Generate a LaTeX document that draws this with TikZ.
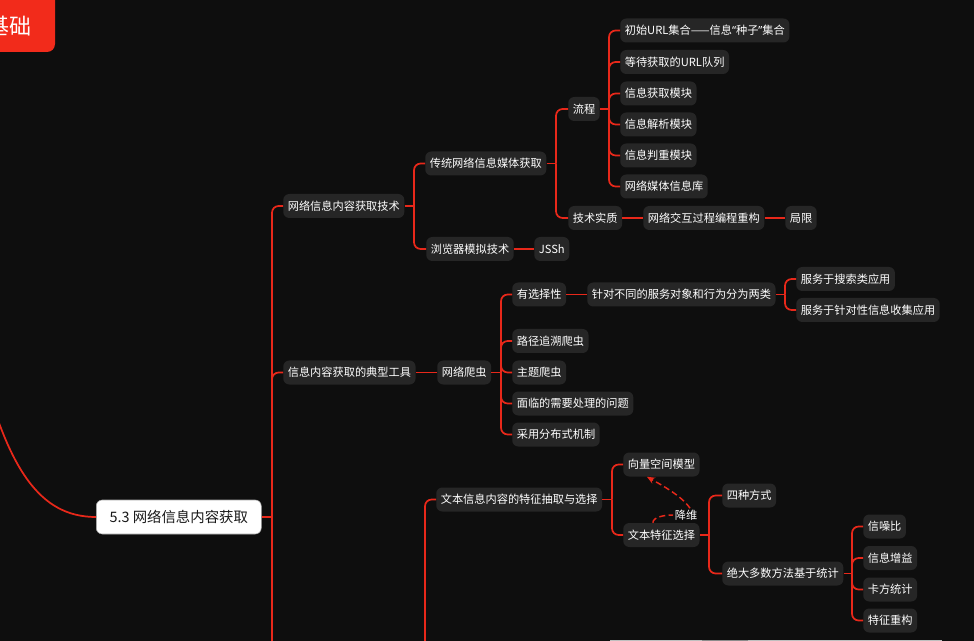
\documentclass[tikz,border=0pt]{standalone}
\usepackage{fontspec}
\setmainfont{Noto Sans CJK SC}
\newfontfamily\latinq{Noto Sans}
\usetikzlibrary{arrows.meta,calc}
\definecolor{bgc}{HTML}{0E0E0E}
\definecolor{nodebg}{HTML}{262626}
\definecolor{edgered}{HTML}{E8281A}
\definecolor{rootred}{HTML}{F22B1B}
\tikzset{
  topic/.style={anchor=west, fill=nodebg, text=white, rounded corners=4.5pt,
    font=\fontsize{8.4}{10}\selectfont, inner xsep=3.4pt, inner ysep=0pt, minimum height=18pt},
  mainnode/.style={anchor=west, fill=white, draw=black!35, line width=0.4pt, text=black!90,
    rounded corners=4.5pt, font=\fontsize{10.8}{12}\selectfont, minimum width=123.75pt,
    minimum height=25.5pt, inner sep=0pt},
  conn/.style={draw=edgered, line width=1.3pt, rounded corners=5pt},
  rel/.style={draw=edgered, line width=1.1pt, dash pattern=on 4.5pt off 2.5pt},
  rellabel/.style={fill=bgc, text=white, font=\fontsize{8.4}{10}\selectfont, inner sep=1pt},
}
\begin{document}
\begin{tikzpicture}[x=0.75pt,y=-0.75pt]
\clip (0,0) rectangle (974,641);
\fill[bgc] (0,0) rectangle (974,641);
% root (cut off)
\fill[rootred, rounded corners=6pt] (-120,-30) rectangle (55,52);
\node[anchor=east, text=white, font=\fontsize{16.5}{18}\selectfont, inner sep=0pt] (root) at (32,26) {基础};
\coordinate (rootout) at (-20,360);
% nodes
\node[mainnode] (m) at (96,517) {5.3 网络信息内容获取};
\node[topic] (a) at (283,206) {网络信息内容获取技术};
\node[topic] (a1) at (425,163.5) {传统网络信息媒体获取};
\node[topic] (lc) at (568,109) {流程};
\node[topic] (l1) at (620,30.5) {初始URL集合——信息{\latinq “}种子{\latinq ”}集合};
\node[topic] (l2) at (620,62) {等待获取的URL队列};
\node[topic] (l3) at (620,93.5) {信息获取模块};
\node[topic] (l4) at (620,124.5) {信息解析模块};
\node[topic] (l5) at (620,155.5) {信息判重模块};
\node[topic] (l6) at (620,186.5) {网络媒体信息库};
\node[topic] (js) at (568,218) {技术实质};
\node[topic] (jr) at (643,218) {网络交互过程编程重构};
\node[topic] (jx) at (785,218) {局限};
\node[topic] (a2) at (426,249) {浏览器模拟技术};
\node[topic] (jssh) at (534,249) {JSSh};
\node[topic] (b) at (283,372.5) {信息内容获取的典型工具};
\node[topic] (b1) at (437,372.5) {网络爬虫};
\node[topic] (c1) at (512,294.5) {有选择性};
\node[topic] (c11) at (587,294.5) {针对不同的服务对象和行为分为两类};
\node[topic] (c111) at (796,279) {服务于搜索类应用};
\node[topic] (c112) at (796,310) {服务于针对性信息收集应用};
\node[topic] (c2) at (512,341) {路径追溯爬虫};
\node[topic] (c3) at (512,372.5) {主题爬虫};
\node[topic] (c4) at (512,403.5) {面临的需要处理的问题};
\node[topic] (c5) at (512,434.5) {采用分布式机制};
\node[topic] (d) at (436,499.5) {文本信息内容的特征抽取与选择};
\node[topic] (d1) at (623,464.5) {向量空间模型};
\node[topic] (d2) at (623,535) {文本特征选择};
\node[topic] (d21) at (722,495.5) {四种方式};
\node[topic] (d22) at (722,573.5) {绝大多数方法基于统计};
\node[topic] (e1) at (863,526.5) {信噪比};
\node[topic] (e2) at (863,558) {信息增益};
\node[topic] (e3) at (863,589.5) {卡方统计};
\node[topic] (e4) at (863,620.5) {特征重构};
\coordinate (dpar) at (425,700);
\coordinate (mend) at (272,700);
% trunk points
\coordinate (tm) at (272,517);
\coordinate (ta) at (414,206);
\coordinate (ta1) at (556,163.5);
\coordinate (tlc) at (609,109);
\coordinate (tb1) at (501,372.5);
\coordinate (tc11) at (785,294.5);
\coordinate (td) at (612,499.5);
\coordinate (td2) at (709,535);
\coordinate (td22) at (852,573.5);
% connectors
\draw[conn] (rootout) .. controls (8,470) and (40,517) .. (m.west);
\draw[conn] (m.east) -- (tm);
\draw[conn] (tm) |- (a.west);
\draw[conn] (tm) |- (b.west);
\draw[conn] (tm) -- (mend);
\draw[conn] (a.east) -- (ta);
\foreach \n in {a1,a2} \draw[conn] (ta) |- (\n.west);
\draw[conn] (a1.east) -- (ta1);
\foreach \n in {lc,js} \draw[conn] (ta1) |- (\n.west);
\draw[conn] (lc.east) -- (tlc);
\foreach \n in {l1,l2,l3,l4,l5,l6} \draw[conn] (tlc) |- (\n.west);
\draw[conn] (js.east) -- (jr.west);
\draw[conn] (jr.east) -- (jx.west);
\draw[conn] (a2.east) -- (jssh.west);
\draw[conn] (b.east) -- (b1.west);
\draw[conn] (b1.east) -- (tb1);
\foreach \n in {c1,c2,c3,c4,c5} \draw[conn] (tb1) |- (\n.west);
\draw[conn] (c1.east) -- (c11.west);
\draw[conn] (c11.east) -- (tc11);
\foreach \n in {c111,c112} \draw[conn] (tc11) |- (\n.west);
\draw[conn] (dpar) |- (d.west);
\draw[conn] (d.east) -- (td);
\foreach \n in {d1,d2} \draw[conn] (td) |- (\n.west);
\draw[conn] (d2.east) -- (td2);
\foreach \n in {d21,d22} \draw[conn] (td2) |- (\n.west);
\draw[conn] (d22.east) -- (td22);
\foreach \n in {e1,e2,e3,e4} \draw[conn] (td22) |- (\n.west);
% relation
\node[rellabel] (jw) at (686,515) {降维};
\draw[rel] ($(d2.north)+(-8.5,0)$) .. controls +(0,-6) and +(-8,0) .. (jw.west);
\draw[rel,-{Stealth[length=6pt,width=5pt]}] ($(jw.north)+(4,0)$) .. controls +(-8,-12) and +(16,9) .. ($(d1.south)+(-14.5,0)$);
% cut-off node tops at bottom edge
\fill[black!25] (610,640) rectangle (942,642);
\fill[black!45] (702,640) rectangle (748,642);
\end{tikzpicture}
\end{document}
